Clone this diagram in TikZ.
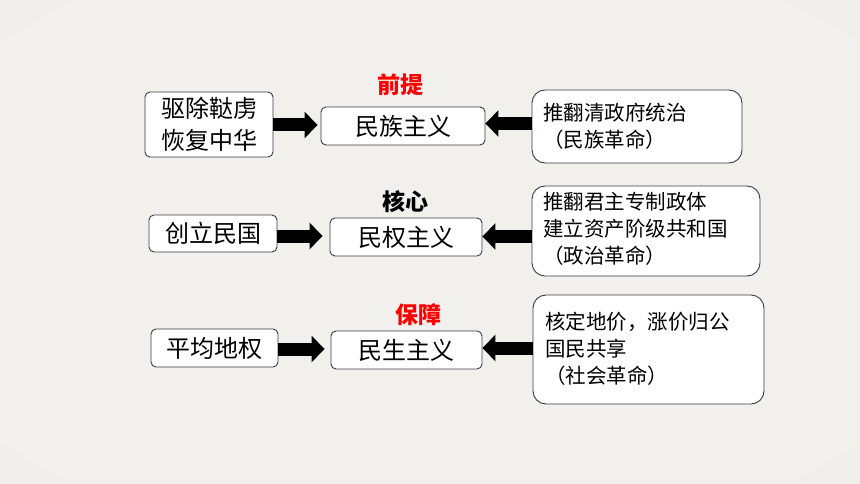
\documentclass[tikz,border=0pt]{standalone}
\usepackage{fontspec}
\newfontfamily\cjk{Noto Sans CJK SC}
\usetikzlibrary{arrows.meta}
\definecolor{bgin}{RGB}{241,240,236}
\definecolor{bgmid}{RGB}{236,234,229}
\definecolor{bgout}{RGB}{224,222,216}
\definecolor{edge}{RGB}{60,60,60}
\definecolor{redlbl}{RGB}{255,0,0}
\pgfdeclareradialshading{paper}{\pgfpoint{0bp}{0bp}}{color(0bp)=(bgin); color(30bp)=(bgin); color(58bp)=(bgmid); color(72bp)=(bgout); color(80bp)=(bgout)}
\begin{document}
\begin{tikzpicture}[x=1pt,y=-1pt,
  lbox/.style={draw=edge,line width=0.9pt,fill=white,rounded corners=5pt,inner sep=0pt,
    font=\cjk\fontsize{24}{32}\selectfont,align=center},
  rbox/.style={draw=edge,line width=0.9pt,fill=white,rounded corners=13pt,inner sep=0pt},
  rtext/.style={font=\cjk\fontsize{20.5}{27}\selectfont,align=left,inner sep=0pt,anchor=west},
  tag/.style={font=\cjk\bfseries\fontsize{23}{26}\selectfont,inner sep=0pt},
  bigarrow/.style={line width=13pt,-{Triangle[length=13pt,width=26pt]}}]
\useasboundingbox (0,0) rectangle (860,484);
\shade[shading=paper] (0,0) rectangle (860,484);
% row 1
\node[lbox,minimum width=128pt,minimum height=65pt] (l1) at (209,124.5) {驱除鞑虏\\恢复中华};
\node[lbox,minimum width=164pt,minimum height=38pt] (m1) at (403,126) {民族主义};
\node[rbox,minimum width=210pt,minimum height=73pt] (r1) at (637,126.5) {};
\node[rtext] (t1) at (543,126.5) {推翻清政府统治\\（民族革命）};
\node[tag,text=redlbl] (g1) at (400,85) {前提};
% row 2
\node[lbox,minimum width=128pt,minimum height=37pt] (l2) at (213,233.5) {创立民国};
\node[lbox,minimum width=152pt,minimum height=38pt] (m2) at (406,237) {民权主义};
\node[rbox,minimum width=228pt,minimum height=90pt] (r2) at (646,231) {};
\node[rtext] (t2) at (543,229) {推翻君主专制政体\\建立资产阶级共和国\\（政治革命）};
\node[tag] (g2) at (405,202) {核心};
% row 3
\node[lbox,minimum width=127pt,minimum height=38pt] (l3) at (214.5,348) {平均地权};
\node[lbox,minimum width=151pt,minimum height=38pt] (m3) at (406.5,350) {民生主义};
\node[rbox,minimum width=231pt,minimum height=109pt] (r3) at (648.5,349.5) {};
\node[rtext] (t3) at (545,349) {核定地价，涨价归公\\国民共享\\（社会革命）};
\node[tag,text=redlbl] (g3) at (418,315) {保障};
% arrows
\draw[bigarrow] ([yshift=1pt]l1.east |- m1.west) -- ([xshift=-3pt,yshift=1pt]m1.west);
\draw[bigarrow] ([yshift=2.5pt]r1.west |- m1.east) -- ([yshift=2.5pt]m1.east);
\draw[bigarrow] ([yshift=1pt]l2.east |- m2.west) -- ([xshift=-7pt,yshift=1pt]m2.west);
\draw[bigarrow] ([yshift=0.5pt]r2.west |- m2.east) -- ([yshift=0.5pt]m2.east);
\draw[bigarrow] ([yshift=1pt]l3.east |- m3.west) -- ([xshift=-6pt,yshift=1pt]m3.west);
\draw[bigarrow] ([yshift=2pt]r3.west |- m3.east) -- ([yshift=2pt]m3.east);
\end{tikzpicture}
\end{document}
